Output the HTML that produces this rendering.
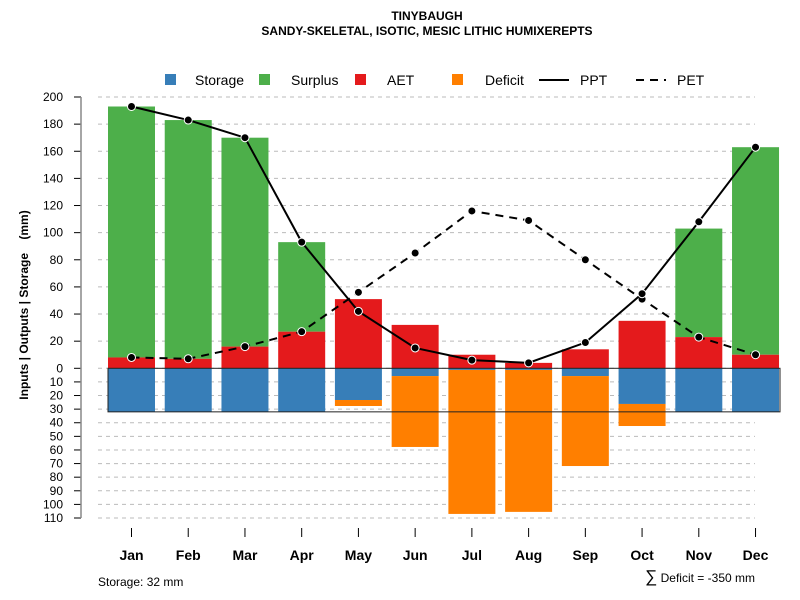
<!DOCTYPE html>
<html><head><meta charset="utf-8"><style>
html,body{margin:0;padding:0;background:#fff}
svg{display:block;font-family:"Liberation Sans",Arial,sans-serif}
</style></head><body>
<svg id="chart" width="800" height="600" viewBox="0 0 800 600">
<text x="427" y="20" font-size="12" font-weight="bold" text-anchor="middle">TINYBAUGH</text>
<text x="427" y="35" font-size="12" font-weight="bold" text-anchor="middle">SANDY-SKELETAL, ISOTIC, MESIC LITHIC HUMIXEREPTS</text>
<g font-size="14">
<rect x="165" y="74" width="11" height="11" fill="#377eb8"/>
<text x="195" y="85">Storage</text>
<rect x="259" y="74" width="11" height="11" fill="#4daf4a"/>
<text x="291" y="85">Surplus</text>
<rect x="355" y="74" width="11" height="11" fill="#e41a1c"/>
<text x="387" y="85">AET</text>
<rect x="452" y="74" width="11" height="11" fill="#ff7f00"/>
<text x="485" y="85">Deficit</text>
<line x1="539" y1="80" x2="569" y2="80" stroke="#000" stroke-width="2"/>
<text x="580" y="85">PPT</text>
<line x1="636" y1="80" x2="666" y2="80" stroke="#000" stroke-width="2" stroke-dasharray="8,6"/>
<text x="677" y="85">PET</text>
</g>
<text transform="translate(28,305) rotate(-90)" font-size="12" font-weight="bold" text-anchor="middle" xml:space="preserve">Inputs | Outputs | Storage    (mm)</text>
<text x="98" y="586" font-size="12">Storage: 32 mm</text>
<text x="755" y="582" font-size="12" text-anchor="end"><tspan font-size="17">∑</tspan> Deficit = -350 mm</text>
<g id="grid"></g><g id="bars"></g><g id="axes"></g><g id="lines"></g>
</svg>
<script>
const months=["Jan","Feb","Mar","Apr","May","Jun","Jul","Aug","Sep","Oct","Nov","Dec"];
const ppt=[193,183,170,93,42,15,6,4,19,55,108,163];
const pet=[8,7,16,27,56,85,116,109,80,51,23,10];
const aet=[8,7,16,27,51,32,10,4,14,35,23,10];
const surplusTop=[193,183,170,93,0,0,0,0,0,0,103,163];
const storage=[32,32,32,32,23.3,5.7,1.2,1.2,5.7,26.2,32,32];
const deficitBottom=[0,0,0,0,27.7,57.8,107,105.5,71.8,42.4,0,0];
const posTicks=[0,20,40,60,80,100,120,140,160,180,200];
const negTicks=[10,20,30,40,50,60,70,80,90,100,110];
const storageCap=32;

const NS="http://www.w3.org/2000/svg";
const y0=368.3;
function yPos(v){return y0-v*1.3565;}
function yNeg(v){return y0+v*1.361;}
function xC(i){return 131.5+i*56.73;}
const BW=47;
function mk(tag,attrs,parent){const e=document.createElementNS(NS,tag);for(const k in attrs)e.setAttribute(k,attrs[k]);document.getElementById(parent).appendChild(e);return e;}

posTicks.forEach(t=>{
  const g=mk("line",{x1:98,x2:755,y1:yPos(t),y2:yPos(t),stroke:"#bbb","stroke-dasharray":"4,4"},"grid");
  
  
  const tk=mk("line",{x1:74,x2:81,y1:yPos(t),y2:yPos(t),stroke:"#000"},"axes");
  
  
  const tx=mk("text",{x:63,y:yPos(t)+4,"font-size":12,"text-anchor":"end"},"axes");tx.textContent=t;
  
  
});
negTicks.forEach(t=>{
  const g=mk("line",{x1:98,x2:755,y1:yNeg(t),y2:yNeg(t),stroke:"#bbb","stroke-dasharray":"4,4"},"grid");
  
  
  const tk=mk("line",{x1:74,x2:81,y1:yNeg(t),y2:yNeg(t),stroke:"#000"},"axes");
  
  
  const tx=mk("text",{x:63,y:yNeg(t)+4,"font-size":12,"text-anchor":"end"},"axes");tx.textContent=t;
  
  
});
const ax=mk("line",{x1:81,x2:81,y1:yPos(200),y2:yNeg(110),stroke:"#888","stroke-width":1.5},"axes");



months.forEach((m,i)=>{
  const x=xC(i)-BW/2;
  if(surplusTop[i]>aet[i]){
    const r=mk("rect",{x:x,width:BW,y:yPos(surplusTop[i]),height:yPos(aet[i])-yPos(surplusTop[i]),fill:"#4daf4a"},"bars");
    
    
  }
  const a=mk("rect",{x:x,width:BW,y:yPos(aet[i]),height:yPos(0)-yPos(aet[i]),fill:"#e41a1c"},"bars");
  
  
  const s=mk("rect",{x:x,width:BW,y:y0,height:yNeg(storage[i])-y0,fill:"#377eb8"},"bars");
  
  
  if(deficitBottom[i]>storage[i]){
    const d=mk("rect",{x:x,width:BW,y:yNeg(storage[i]),height:yNeg(deficitBottom[i])-yNeg(storage[i]),fill:"#ff7f00"},"bars");
    
    
  }
  const tk=mk("line",{x1:xC(i),x2:xC(i),y1:528,y2:537,stroke:"#000"},"axes");
  
  
  const tl=mk("text",{x:xC(i),y:560,"font-size":14,"font-weight":"bold","text-anchor":"middle"},"axes");tl.textContent=m;
  
  
});
const box=mk("rect",{x:108,y:y0,width:672,height:yNeg(storageCap)-y0,fill:"none",stroke:"#222","stroke-width":1},"bars");



function series(vals,dash,name){
  const p=mk("polyline",{points:vals.map((v,i)=>xC(i)+","+yPos(v)).join(" "),fill:"none",stroke:"#000","stroke-width":2,"stroke-dasharray":dash},"lines");
  
  
  vals.forEach((v,i)=>{
    const c=mk("circle",{cx:xC(i),cy:yPos(v),r:4,fill:"#000",stroke:"#fff","stroke-width":1},"lines");
    
    
  });
}
series(pet,"8,6","pet");
series(ppt,"none","ppt");
</script>
</body></html>
